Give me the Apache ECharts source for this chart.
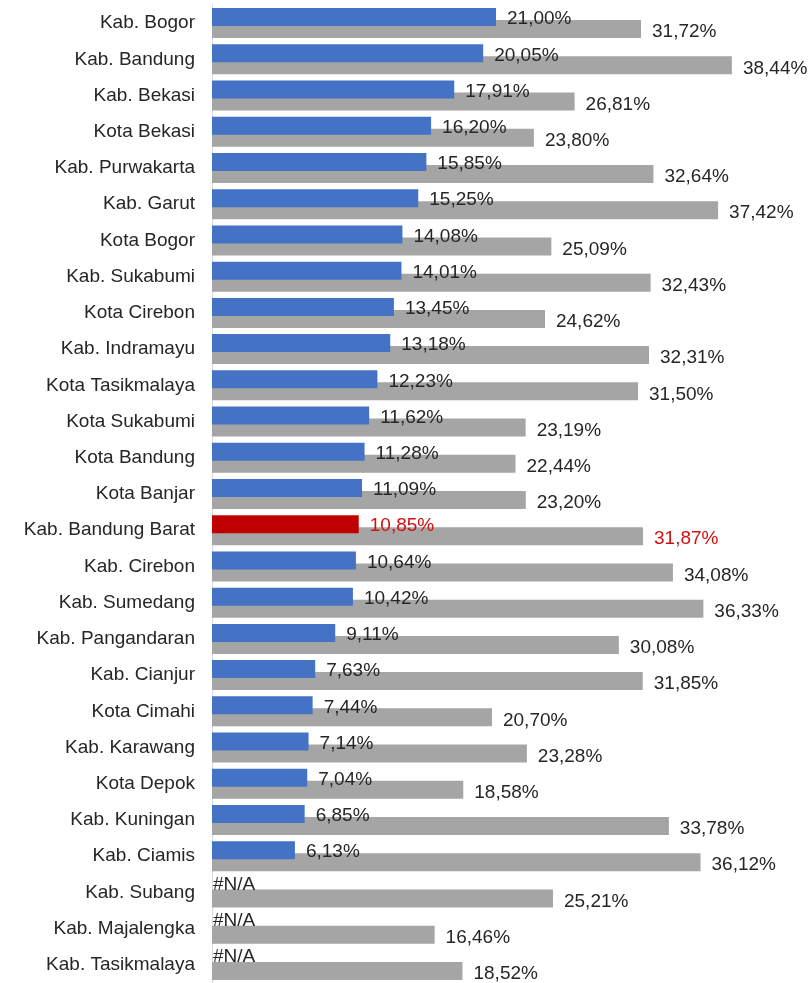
<!DOCTYPE html>
<html>
<head>
<meta charset="utf-8">
<script src="https://cdn.jsdelivr.net/npm/echarts@6/dist/echarts.min.js"></script>
<style>
html,body{margin:0;padding:0;background:#fff;}
#chart{width:808px;height:983px;}
</style>
</head>
<body>
<div id="chart"></div>
<script>
var categories = ["Kab. Bogor","Kab. Bandung","Kab. Bekasi","Kota Bekasi","Kab. Purwakarta","Kab. Garut","Kota Bogor","Kab. Sukabumi","Kota Cirebon","Kab. Indramayu","Kota Tasikmalaya","Kota Sukabumi","Kota Bandung","Kota Banjar","Kab. Bandung Barat","Kab. Cirebon","Kab. Sumedang","Kab. Pangandaran","Kab. Cianjur","Kota Cimahi","Kab. Karawang","Kota Depok","Kab. Kuningan","Kab. Ciamis","Kab. Subang","Kab. Majalengka","Kab. Tasikmalaya"];
var seriesA = [21.00,20.05,17.91,16.20,15.85,15.25,14.08,14.01,13.45,13.18,12.23,11.62,11.28,11.09,10.85,10.64,10.42,9.11,7.63,7.44,7.14,7.04,6.85,6.13,null,null,null];
var seriesB = [31.72,38.44,26.81,23.80,32.64,37.42,25.09,32.43,24.62,32.31,31.50,23.19,22.44,23.20,31.87,34.08,36.33,30.08,31.85,20.70,23.28,18.58,33.78,36.12,25.21,16.46,18.52];
var highlight = "Kab. Bandung Barat";

var BLUE = '#4472C4', RED = '#C00000', GRAY = '#A5A5A5', TXT = '#262626', RTXT = '#D01010';
var FONT = 'Liberation Sans, Arial, sans-serif';
function fmt(v){ return v.toFixed(2).replace('.', ',') + '%'; }

var dataA = seriesA.map(function(v, i){
  var hl = categories[i] === highlight;
  if (v === null) {
    return {value: 0, label: {formatter: '#N/A', distance: 1, offset: [0, -2]}};
  }
  return {value: v, itemStyle: {color: hl ? RED : BLUE}, label: {color: hl ? RTXT : TXT}};
});
var dataB = seriesB.map(function(v, i){
  var hl = categories[i] === highlight;
  return {value: v, label: {color: hl ? RTXT : TXT}};
});

var chart = echarts.init(document.getElementById('chart'));
chart.setOption({
  animation: false,
  grid: {left: 212, right: 55, top: 5, height: 981, containLabel: false},
  xAxis: {type: 'value', min: 0, max: 40, show: false},
  yAxis: {
    type: 'category', data: categories, inverse: true,
    axisLine: {show: true, lineStyle: {color: '#D9D9D9', width: 1}},
    axisTick: {show: false},
    axisLabel: {color: TXT, fontSize: 19, fontFamily: FONT, margin: 17, padding: [2, 0, 0, 0]}
  },
  series: [
    {
      type: 'bar', data: dataA, barWidth: 18, barGap: '-33.33%', z: 3,
      itemStyle: {color: BLUE},
      label: {show: true, position: 'right', distance: 11, offset: [0, 2], fontSize: 19,
        fontFamily: FONT, color: TXT,
        formatter: function(p){ return fmt(p.value); }}
    },
    {
      type: 'bar', data: dataB, barWidth: 18, z: 2,
      itemStyle: {color: GRAY},
      label: {show: true, position: 'right', distance: 11, offset: [0, 3], fontSize: 19,
        fontFamily: FONT, color: TXT,
        formatter: function(p){ return fmt(p.value); }}
    }
  ]
});
</script>
</body>
</html>
